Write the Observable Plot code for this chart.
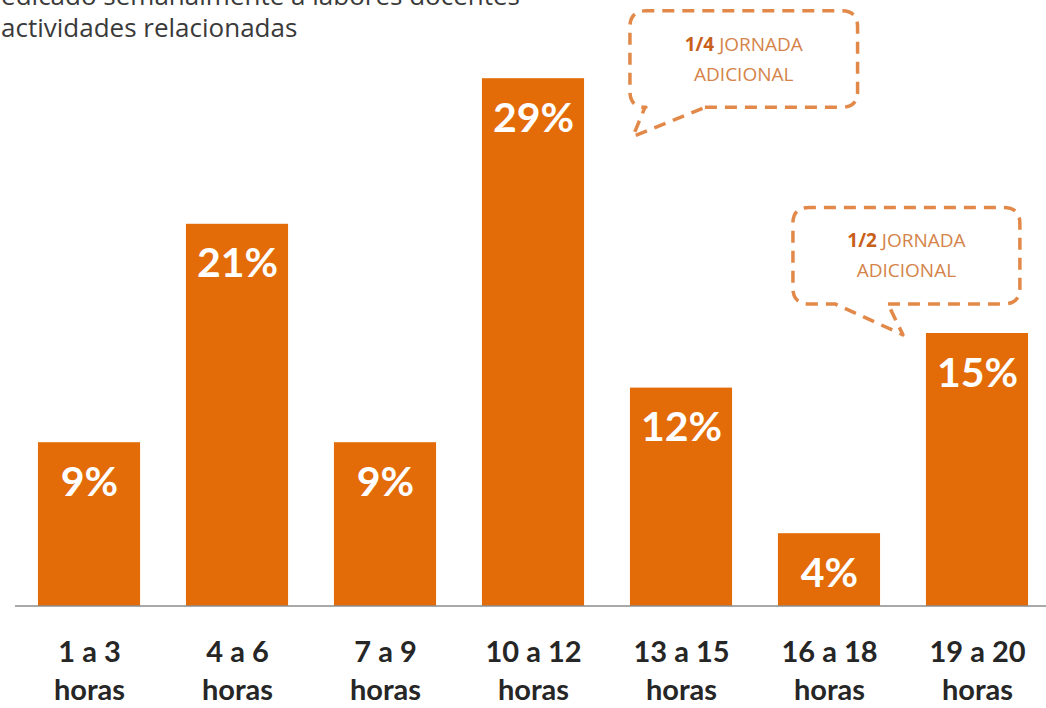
<!DOCTYPE html>
<html><head><meta charset="utf-8">
<script src="https://cdn.jsdelivr.net/npm/d3@7"></script>
<script src="https://cdn.jsdelivr.net/npm/@observablehq/plot@0.6"></script>
<style>
html,body{margin:0;padding:0;background:#fff;overflow:hidden;}
#wrap{position:relative;width:1046px;height:708px;overflow:hidden;}
.t{position:absolute;z-index:2;font-family:"Open Sans",Lato,sans-serif;font-size:26px;color:#3a3a3a;white-space:nowrap;line-height:1;}
</style></head><body>
<div id="wrap">
<div class="t" style="right:526px;top:-18px">Tiempo dedicado semanalmente a labores docentes</div>
<div class="t" style="left:1px;top:14px">actividades relacionadas</div>
<div id="chart"></div>
</div>
<script>
const categories = ["1 a 3\nhoras","4 a 6\nhoras","7 a 9\nhoras","10 a 12\nhoras","13 a 15\nhoras","16 a 18\nhoras","19 a 20\nhoras"];
const values = [9, 21, 9, 29, 12, 4, 15];
const valueLabels = ["9%","21%","9%","29%","12%","4%","15%"];
const calloutBold = ["1/4", "1/2"];
const calloutRest = [" JORNADA", " JORNADA"];
const calloutLine2 = ["ADICIONAL", "ADICIONAL"];

const data = categories.map((c, i) => ({cat: c, value: values[i], label: valueLabels[i]}));

const ORANGE = "#E36C09";
const DASH = "#E2894A";

function calloutMark(index, scales, vals, dims) {
  const x = scales.x, y = scales.y;
  const bw = x.bandwidth();
  const boxes = [
    {left: x(categories[4]), right: x(categories[5]) + 0.78 * bw, top: y(32.7), bottom: y(27.4),
     b1: x(categories[4]) + 15, b2: x(categories[4]) + 75, tipX: x(categories[4]) + 3, tipY: y(25.8)},
    {left: x(categories[5]) + 15, right: x(categories[6]) + 0.92 * bw, top: y(21.9), bottom: y(16.6),
     b1: x(categories[5]) + 57, b2: x(categories[5]) + 110, tipX: x(categories[6]) - 23, tipY: y(14.9)}
  ];
  const g = d3.create("svg:g");
  g.append("line").attr("x1", 15).attr("x2", dims.width).attr("y1", y(0)).attr("y2", y(0))
    .attr("stroke", "#8c8c8c").attr("stroke-width", 1.6);
  boxes.forEach((b, i) => {
    const r = 16;
    const p = `M${b.b2},${b.bottom} H${b.right - r} Q${b.right},${b.bottom} ${b.right},${b.bottom - r}`
      + ` V${b.top + r} Q${b.right},${b.top} ${b.right - r},${b.top}`
      + ` H${b.left + r} Q${b.left},${b.top} ${b.left},${b.top + r}`
      + ` V${b.bottom - r} Q${b.left},${b.bottom} ${b.left + r},${b.bottom}`
      + ` H${b.b1} L${b.tipX},${b.tipY} L${b.b2},${b.bottom}`;
    g.append("path").attr("d", p).attr("fill", "none").attr("stroke", DASH)
      .attr("stroke-width", 3.5).attr("stroke-dasharray", "12 8").attr("stroke-linejoin", "round");
    const cx = (b.left + b.right) / 2, h = b.bottom - b.top;
    const t1 = g.append("text").attr("x", cx).attr("y", b.top + 0.36 * h).attr("text-anchor", "middle")
      .attr("dominant-baseline", "middle").attr("font-family", "'Open Sans', Lato, sans-serif").attr("font-size", 19);
    t1.append("tspan").attr("font-weight", "bold").attr("fill", "#C8601A").text(calloutBold[i]);
    t1.append("tspan").attr("fill", "#D4844A").text(calloutRest[i]);
    g.append("text").attr("x", cx).attr("y", b.top + 0.67 * h).attr("text-anchor", "middle")
      .attr("dominant-baseline", "middle").attr("font-family", "'Open Sans', Lato, sans-serif").attr("font-size", 19)
      .attr("fill", "#D4844A").text(calloutLine2[i]);
  });
  return g.node();
}

const chart = Plot.plot({
  width: 1046,
  height: 708,
  marginLeft: 27,
  marginRight: 7,
  marginTop: 60,
  marginBottom: 102,
  style: {fontFamily: "Lato, 'Open Sans', sans-serif", background: "transparent", overflow: "visible"},
  x: {domain: categories, paddingInner: 0.31, paddingOuter: 0.074, round: false, axis: null},
  y: {domain: [0, 30], axis: null},
  marks: [
    Plot.barY(data, {x: "cat", y: "value", fill: ORANGE}),
    Plot.text(data, {x: "cat", y: "value", text: "label", dy: 40, fill: "white", fontSize: 41, fontWeight: "bold"}),
    Plot.axisX({tickSize: 0, tickPadding: 28, fontSize: 29, fontWeight: "bold", lineHeight: 1.33, color: "#262626", label: null}),
    calloutMark
  ]
});
document.getElementById("chart").appendChild(chart);
</script>
</body></html>
